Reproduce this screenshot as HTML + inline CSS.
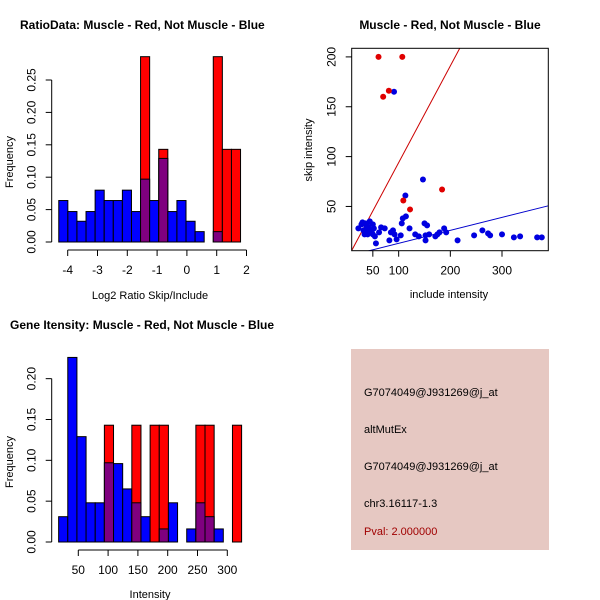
<!DOCTYPE html>
<html><head><meta charset="utf-8"><style>
html,body{margin:0;padding:0;background:#fff;}
svg{display:block;font-family:"Liberation Sans",sans-serif;}
</style></head><body>
<svg id="c" width="600" height="600" xmlns="http://www.w3.org/2000/svg">
<rect width="600" height="600" fill="#fff"/>
<text x="20" y="29" font-size="12" font-weight="bold">RatioData: Muscle - Red, Not Muscle - Blue</text>
<text x="450" y="29" font-size="12" font-weight="bold" text-anchor="middle">Muscle - Red, Not Muscle - Blue</text>
<text x="10" y="329" font-size="12" font-weight="bold">Gene Itensity: Muscle - Red, Not Muscle - Blue</text>
<text x="150" y="299" font-size="11" text-anchor="middle">Log2 Ratio Skip/Include</text>
<text transform="translate(13,162) rotate(-90)" font-size="11" text-anchor="middle">Frequency</text>
<text x="449" y="298" font-size="11" text-anchor="middle">include intensity</text>
<text transform="translate(312,150) rotate(-90)" font-size="11" text-anchor="middle">skip intensity</text>
<text x="150" y="598" font-size="11" text-anchor="middle">Intensity</text>
<text transform="translate(13,462) rotate(-90)" font-size="11" text-anchor="middle">Frequency</text>
<g>
<rect x="351" y="349" width="198" height="201" fill="#e6c8c2"/>
<text x="364" y="396" font-size="11">G7074049@J931269@j_at</text>
<text x="364" y="433" font-size="11">altMutEx</text>
<text x="364" y="470" font-size="11">G7074049@J931269@j_at</text>
<text x="364" y="507" font-size="11">chr3.16117-1.3</text>
<text x="364" y="535" font-size="11" fill="#a00000">Pval: 2.000000</text>
</g>
</svg>
<script>
// Ratio histogram data
const ratioBinStart = -4.3, ratioBinWidth = 0.305;
const ratioBlue = [0.064,0.047,0.032,0.047,0.080,0.064,0.064,0.080,0.047,0.097,0.064,0.129,0.047,0.064,0.032,0.016,0,0.016,0,0];
const ratioRed  = [0,0,0,0,0,0,0,0,0,0.286,0,0.143,0,0,0,0,0,0.286,0.143,0.143];
const ratioXTicks = [-4,-3,-2,-1,0,1,2];
const ratioYTicks = ["0.00","0.05","0.10","0.15","0.20","0.25"];
// Intensity histogram data
const intBinStart = 17, intBinWidth = 15.35;
const intBlue = [0.031,0.226,0.129,0.048,0.048,0.097,0.096,0.065,0.048,0.031,0,0.016,0.048,0,0.016,0.048,0.031,0.016,0,0];
const intRed  = [0,0,0,0,0,0.143,0,0,0.143,0,0.143,0.143,0,0,0,0.143,0.143,0,0,0.143];
const intXTicks = [50,100,150,200,250,300];
const intYTicks = ["0.00","0.05","0.10","0.15","0.20"];
// Scatter data
const redX = [61,107,70,81,109,122,184];
const redY = [200,200,160,166,56,47,67];
const blueX = [22,28,30,32,34,36,38,40,42,44,46,48,50,50,52,54,44,40,36,56,62,66,73,82,85,89,92,96,104,106,108,114,113,121,132,139,147,150,152,152,155,159,171,175,179,188,192,214,246,262,273,277,300,323,335,368,377,91];
const blueY = [28,32,34,26,22,24,30,22,28,35,26,24,32,22,28,20,24,30,33,13,24,29,28,16,24,26,22,17,21,33,38,40,61,28,22,20,77,33,16,21,31,22,20,22,24,28,24,16,21,26,23,21,22,19,20,19,19,165];
const scXTicks = [50,100,200,300];
const scYTicks = [50,100,150,200];
const redLineSlope = 0.97, redLineInt = -3;
const blueLineSlope = 0.13, blueLineInt = 0;

const NS="http://www.w3.org/2000/svg", svg=document.getElementById('c');
function mk(tag,at,parent){const e=document.createElementNS(NS,tag);for(const k in at)e.setAttribute(k,at[k]);(parent||svg).appendChild(e);return e;}

function hist(cfg){
  const g=mk('g',{});
  
  
  const X=v=>cfg.x0+(v-cfg.xv0)*cfg.xs, Y=v=>cfg.y0-v*cfg.ys;
  const n=cfg.blue.length;
  for(let i=0;i<n;i++){
    const a=cfg.start+i*cfg.w, b=a+cfg.w, x=X(a), w=X(b)-X(a);
    const r=cfg.red[i], bl=cfg.blue[i];
    if(r>0){const e=mk('rect',{x:x,y:Y(r),width:w,height:Y(0)-Y(r),fill:'#ff0000',stroke:'#000','stroke-width':1},g);
      
      }
    if(bl>0){
      const e=mk('rect',{x:x,y:Y(bl),width:w,height:Y(0)-Y(bl),fill:r>0?'#7f007f':'#0000ff',stroke:'#000','stroke-width':1},g);
      
      }
  }
  const xa=mk('g',{},g);
  
  
  const t=cfg.xticks;
  mk('line',{x1:X(t[0]),x2:X(t[t.length-1]),y1:cfg.xaxY,y2:cfg.xaxY,stroke:'#000'},xa);
  t.forEach(v=>{mk('line',{x1:X(v),x2:X(v),y1:cfg.xaxY,y2:cfg.xaxY+6,stroke:'#000'},xa);
    const tx=mk('text',{x:X(v),y:cfg.xaxY+24,'font-size':12,'text-anchor':'middle'},xa);tx.textContent=v;});
  const ya=mk('g',{},g);
  
  
  const yt=cfg.yticks.map(Number);
  mk('line',{x1:cfg.yaxX,x2:cfg.yaxX,y1:Y(yt[0]),y2:Y(yt[yt.length-1]),stroke:'#000'},ya);
  cfg.yticks.forEach(s=>{const v=Number(s);mk('line',{x1:cfg.yaxX-6,x2:cfg.yaxX,y1:Y(v),y2:Y(v),stroke:'#000'},ya);
    const tx=mk('text',{transform:`translate(${cfg.yaxX-16},${Y(v)}) rotate(-90)`,'font-size':12,'text-anchor':'middle'},ya);tx.textContent=s;});
}
hist({name:'ratio-histogram',blue:ratioBlue,red:ratioRed,start:ratioBinStart,w:ratioBinWidth,x0:67.7,xv0:-4,xs:29.8,y0:242,ys:648,xticks:ratioXTicks,yticks:ratioYTicks,xaxY:250,yaxX:51.7});
hist({name:'intensity-histogram',blue:intBlue,red:intRed,start:intBinStart,w:intBinWidth,x0:78.3,xv0:50,xs:0.596,y0:542,ys:816.7,xticks:intXTicks,yticks:intYTicks,xaxY:550,yaxX:51.7});

// scatter
(function(){
  const g=mk('g',{});
  
  
  const X=v=>347+v*0.5167, Y=v=>256.3-v*0.997;
  const L=351.7,R=548.3,T=48.3,B=250.7;
  mk('defs',{},g).innerHTML='<clipPath id="sc"><rect x="'+L+'" y="'+T+'" width="'+(R-L)+'" height="'+(B-T)+'"/></clipPath>';
  const lg=mk('g',{'clip-path':'url(#sc)'},g);
  const xmin=(L-347)/0.5167, xmax=(R-347)/0.5167;
  const rl=mk('line',{x1:X(xmin),y1:Y(redLineInt+redLineSlope*xmin),x2:X(xmax),y2:Y(redLineInt+redLineSlope*xmax),stroke:'#cc0000'},lg);
  
  
  const bln=mk('line',{x1:X(xmin),y1:Y(blueLineInt+blueLineSlope*xmin),x2:X(xmax),y2:Y(blueLineInt+blueLineSlope*xmax),stroke:'#0000cc'},lg);
  
  
  blueX.forEach((v,i)=>{const c=mk('circle',{cx:X(v),cy:Y(blueY[i]),r:3,fill:'#0000e0'},lg);
    
    });
  redX.forEach((v,i)=>{const c=mk('circle',{cx:X(v),cy:Y(redY[i]),r:3,fill:'#e00000'},lg);
    
    });
  mk('rect',{x:L,y:T,width:R-L,height:B-T,fill:'none',stroke:'#000'},g);
  scXTicks.forEach(v=>{mk('line',{x1:X(v),x2:X(v),y1:B,y2:B+6,stroke:'#000'},g);
    const t=mk('text',{x:X(v),y:B+24,'font-size':12,'text-anchor':'middle'},g);t.textContent=v;});
  scYTicks.forEach(v=>{mk('line',{x1:L-6,x2:L,y1:Y(v),y2:Y(v),stroke:'#000'},g);
    const t=mk('text',{transform:`translate(${L-16},${Y(v)}) rotate(-90)`,'font-size':12,'text-anchor':'middle'},g);t.textContent=v;});
})();
</script>
</body></html>
